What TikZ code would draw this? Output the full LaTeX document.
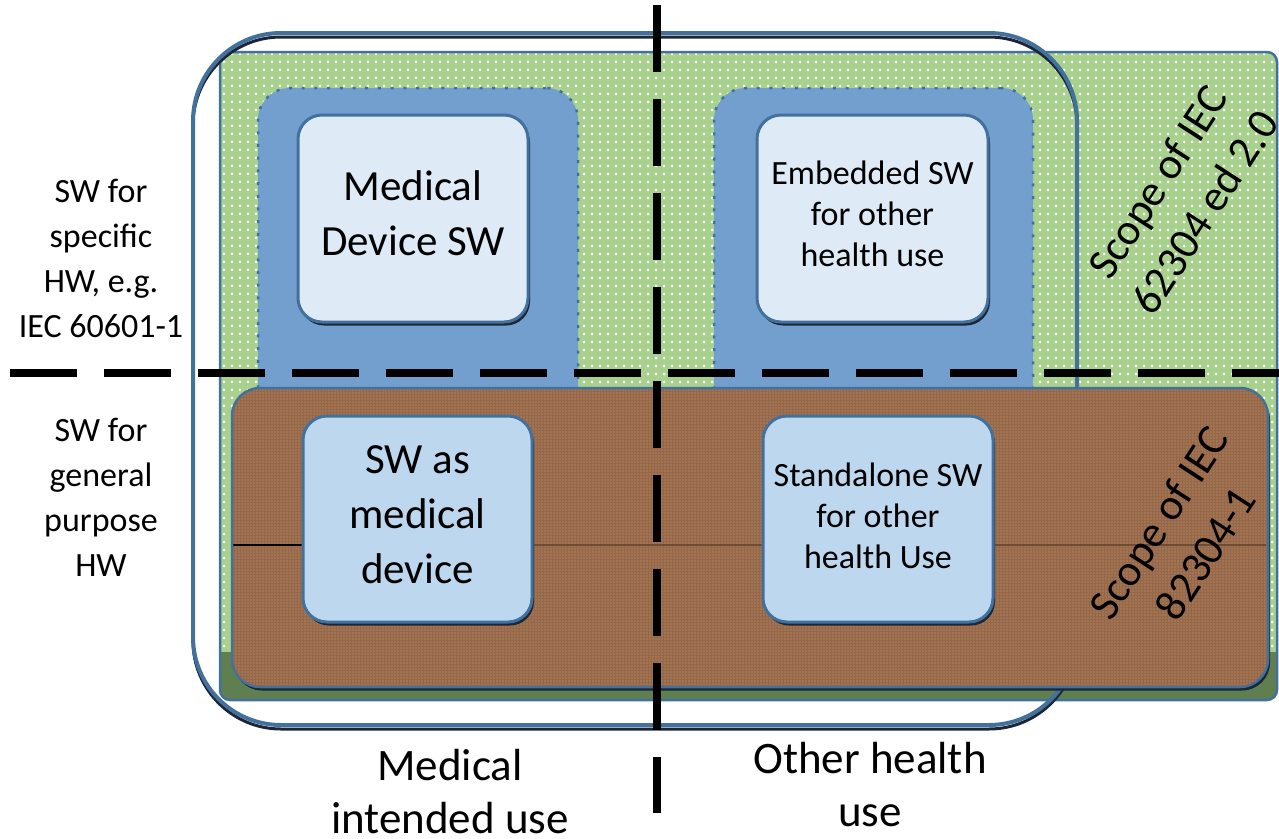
\documentclass[tikz,border=0pt]{standalone}
\usepackage{fontspec}
\setmainfont{Carlito}
\usetikzlibrary{patterns.meta,shadows}

\definecolor{leaf}{RGB}{169,209,142}
\definecolor{leafdark}{RGB}{96,127,80}
\definecolor{edge}{RGB}{65,113,156}
\definecolor{steel}{RGB}{114,159,206}
\definecolor{paleblue}{RGB}{222,234,246}
\definecolor{skyblue}{RGB}{189,215,238}
\definecolor{clay}{RGB}{163,116,84}
\definecolor{clayline}{RGB}{138,94,64}
\definecolor{shadowink}{RGB}{28,38,54}

\begin{document}
\begin{tikzpicture}[x=1pt,y=-1pt,
  boxshadow/.style={drop shadow={shadow xshift=2pt,shadow yshift=-3.5pt,opacity=1,fill=shadowink}},
  lightbox/.style={rectangle, rounded corners=24pt, draw=edge, line width=3pt,
    boxshadow, inner sep=0pt},
  groupbox/.style={rectangle, rounded corners=32pt, fill=steel, draw=edge,
    line width=2.5pt, dash pattern=on 3pt off 9.7pt},
  divider/.style={line width=8pt, dash pattern=on 67pt off 27pt, line cap=butt},
  lbl/.style={align=center, inner sep=0pt},
  sidefont/.style={font=\fontsize{34pt}{45pt}\selectfont},
  boxfont/.style={font=\fontsize{34pt}{41pt}\selectfont},
  bigfont/.style={font=\fontsize{43pt}{55pt}\selectfont},
  footfont/.style={font=\fontsize{45pt}{53pt}\selectfont},
  scopefont/.style={font=\fontsize{44pt}{56pt}\selectfont},
]
\useasboundingbox (0,0) rectangle (1279,838);

% green dotted scope of IEC 62304
\fill[leaf, rounded corners=10pt] (220,52) rectangle (1277,700);
\fill[pattern={Dots[radius=1.5pt,distance=8pt]}, pattern color=white,
  rounded corners=10pt] (220,52) rectangle (1277,700);
\fill[leafdark] (220,652) -- (1277,652) [rounded corners=10pt] -- (1277,700)
  -- (220,700) [sharp corners] -- cycle;
\draw[edge, line width=2.5pt, rounded corners=10pt] (220,52) rectangle (1277,700);

% medical intended use outline
\draw[shadowink, line width=3pt, rounded corners=88pt] (193,37) rectangle (1077,729);
\draw[edge, line width=4pt, rounded corners=88pt] (193,33) rectangle (1077,725);

% embedded software groups
\node[groupbox, minimum width=320pt, minimum height=332pt] (gleft) at (418,254) {};
\node[groupbox, minimum width=319pt, minimum height=332pt] (gright) at (873.5,254) {};

\node[lightbox, fill=paleblue, minimum width=230pt, minimum height=207pt]
  (mdsw) at (413,218.5) {};
\node[lightbox, fill=paleblue, minimum width=231pt, minimum height=207pt]
  (embsw) at (872.5,218.5) {};
\node[lbl, bigfont] (mdswText) at ([yshift=5pt]mdsw.center) {Medical\\Device SW};
\node[lbl, boxfont] (embswText) at ([yshift=5pt]embsw.center) {Embedded SW\\for other\\health use};

% brown scope of IEC 82304-1
\path[fill=clay, boxshadow, rounded corners=28pt] (232,388) rectangle (1268,687);
\path[pattern={Hatch[angle=0,distance=3pt,line width=0.6pt]}, pattern color=clayline,
  opacity=0.55, rounded corners=28pt] (232,388) rectangle (1268,687);
\coordinate (seamL) at (232,545);
\coordinate (seamR) at (1266,545);
\coordinate (seamM) at (303,545);
\draw[clayline!80!black, line width=1.2pt] (seamL) -- (seamR);
\draw[black, line width=1.5pt] (seamL) -- (seamM);
\draw[edge, line width=2.5pt, rounded corners=28pt] (232,388) rectangle (1268,687);

\node[lightbox, fill=skyblue, minimum width=229pt, minimum height=206pt]
  (samd) at (417.5,519) {};
\node[lightbox, fill=skyblue, minimum width=230pt, minimum height=206pt]
  (stsw) at (878,519) {};
\node[lbl, bigfont] (samdText) at ([yshift=4pt]samd.center) {SW as\\medical\\device};
\node[lbl, boxfont] (stswText) at ([yshift=3pt]stsw.center) {Standalone SW\\for other\\health Use};

% dividing lines
\coordinate (vtop) at (657,5);
\coordinate (vbot) at (657,813);
\coordinate (hleft) at (10,373);
\coordinate (hright) at (1279,373);
\draw[divider] (hleft) -- (hright);
\draw[divider] (vtop) -- (vbot);

% labels
\node[lbl, sidefont] (hwspec) at (101,258) {SW for\\specific\\HW, e.g.\\IEC 60601-1};
\node[lbl, sidefont] (hwgen) at (101,497) {SW for\\general\\purpose\\HW};
\node[lbl, footfont] (medUse) at (450,792) {Medical\\intended use};
\node[lbl, footfont] (othUse) at (870,785) {Other health\\use};
\node[lbl, scopefont, rotate=57] (scopeA) at (1181,197) {Scope of IEC\\62304 ed 2.0};
\node[lbl, scopefont, rotate=57] (scopeB) at (1182,538) {Scope of IEC\\82304-1};
\end{tikzpicture}
\end{document}
